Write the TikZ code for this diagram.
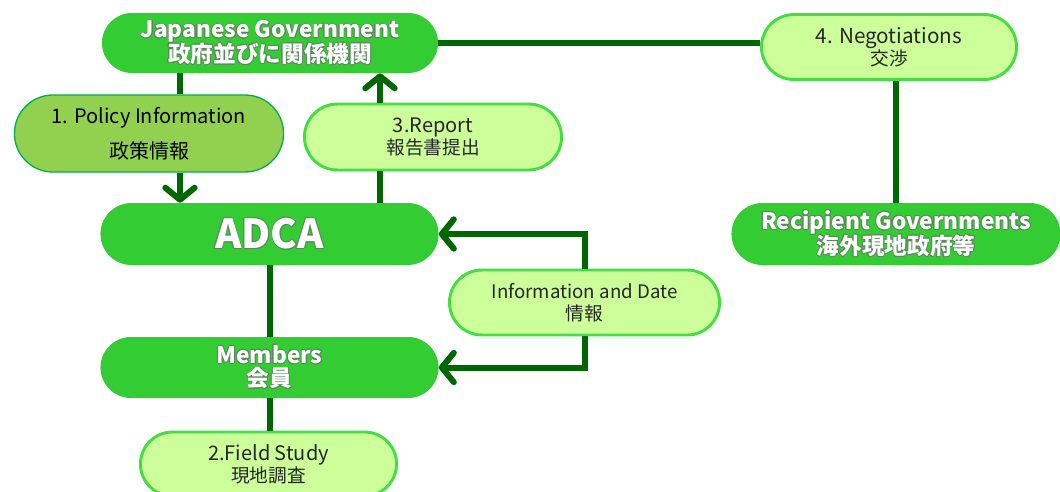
\documentclass[tikz,border=0pt]{standalone}
\usepackage{fontspec}
\setmainfont{Noto Sans CJK JP}
\usepackage{contour}
\contourlength{0.5pt}
\usetikzlibrary{shapes.misc,arrows.meta}
\definecolor{dkg}{HTML}{33CC33}
\definecolor{ltg}{HTML}{CCFF99}
\definecolor{ltb}{HTML}{44DD44}
\definecolor{pol}{HTML}{92D050}
\definecolor{polb}{HTML}{00B050}
\definecolor{lnc}{HTML}{006600}
\definecolor{shd}{HTML}{5A8A5A}
\newcommand{\wt}[1]{\contour{shd}{#1}}
\tikzset{
  dk/.style={rounded rectangle, fill=dkg, draw=none, text=white, align=center,
    font=\fontsize{17}{18.5}\selectfont\bfseries},
  lt/.style={rounded rectangle, fill=ltg, draw=ltb, line width=2.2pt, text=black!85, align=center,
    font=\fontsize{14}{16.5}\selectfont},
  pl/.style={rounded rectangle, fill=pol, draw=polb, line width=1pt, text=black, align=center,
    font=\fontsize{15}{26}\selectfont},
  ln/.style={draw=lnc, line width=4.5pt},
  >={Straight Barb[length=9pt,width=22pt,round]}
}
\begin{document}
\begin{tikzpicture}[x=0.75pt,y=-0.75pt]
\useasboundingbox (0,0) rectangle (1060,492);
% nodes
\node[dk, minimum width=258.75pt, minimum height=45pt] (JG) at (270,43)
  {\wt{Japanese Government}\\[-1pt]\wt{政府並びに関係機関}};
\node[lt, minimum width=198pt, minimum height=48.75pt] (Neg) at (889,47)
  {{\fontsize{15.5}{16.5}\selectfont 4. Negotiations}\\交渉};
\node[dk, minimum width=253.5pt, minimum height=46.5pt] (Rec) at (896,234)
  {\wt{Recipient Governments}\\[-1pt]\wt{海外現地政府等}};
\node[pl, minimum width=208.5pt, minimum height=57.75pt] (Pol) at (149,133.5)
  {1. Policy Information\\政策情報};
\node[lt, minimum width=199.5pt, minimum height=49.5pt] (Rep) at (433,137)
  {{\fontsize{15}{16.5}\selectfont 3.Report}\\報告書提出};
\node[dk, minimum width=260.25pt, minimum height=46.5pt, font=\fontsize{30}{32}\selectfont\bfseries] (ADCA) at (269.5,234)
  {\wt{ADCA}};
\node[lt, minimum width=209.25pt, minimum height=48.75pt] (Info) at (584.5,302.5)
  {Information and Date\\情報};
\node[dk, minimum width=260.25pt, minimum height=45.75pt] (Mem) at (269.5,367.5)
  {\wt{Members}\\[-1pt]\wt{会員}};
\node[lt, minimum width=198.75pt, minimum height=48pt] (Fld) at (268.5,464)
  {{\fontsize{15}{16.5}\selectfont 2.Field Study}\\現地調査};
% connectors
\coordinate (xp) at (180,0);
\coordinate (xr) at (380,0);
\draw[ln] (JG.east) -- (JG.east -| Neg.west);
\draw[ln] (Rec.north) -- (Rec.north |- Neg.south);
\draw[ln] (JG.south -| xp) -- (Pol.north -| xp);
\draw[ln,->] (Pol.south -| xp) -- (ADCA.north -| xp);
\draw[ln] (ADCA.north -| xr) -- (Rep.south -| xr);
\draw[ln,->] (Rep.north -| xr) -- (JG.south -| xr);
\draw[ln,->] (Info.north) |- (ADCA.east);
\draw[ln,->] (Info.south) |- (Mem.east);
\draw[ln] (ADCA.south) -- (Mem.north);
\draw[ln] (Mem.south) -- (Fld.north -| Mem.south);
\end{tikzpicture}
\end{document}
